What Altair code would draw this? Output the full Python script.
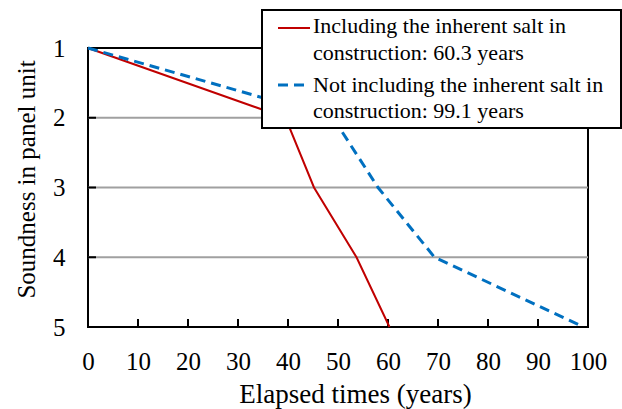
import altair as alt
import pandas as pd

# ---- data ----
red_years = [0, 39.5, 45.2, 53.7, 60.3]
red_sound = [1, 2, 3, 4, 5]
blue_years = [0, 49.0, 58.0, 69.3, 99.1]
blue_sound = [1, 2, 3, 4, 5]

series_names = [
    "Including the inherent salt in construction: 60.3 years",
    "Not including the inherent salt in construction: 99.1 years",
]
legend_red = ["Including the inherent salt in", "construction: 60.3 years"]
legend_blue = ["Not including the inherent salt in", "construction: 99.1 years"]

x_ticks = [0, 10, 20, 30, 40, 50, 60, 70, 80, 90, 100]
y_ticks = [1, 2, 3, 4, 5]
grid_levels = [2, 3, 4]

RED = "#C00000"
BLUE = "#0070C0"
FONT = "Liberation Serif"
W, H = 500, 279

df = pd.DataFrame({
    "x": red_years + blue_years,
    "y": red_sound + blue_sound,
    "series": [series_names[0]] * len(red_years) + [series_names[1]] * len(blue_years),
})

x_axis = alt.Axis(values=x_ticks, title="Elapsed times (years)", grid=False,
                  ticks=False, tickSize=0, domain=False,
                  labelFont=FONT, labelFontSize=25, labelColor="black", labelPadding=22,
                  labelFlush=False,
                  titleFont=FONT, titleFontSize=27, titleFontWeight="normal",
                  titleColor="black", titlePadding=7, titleX=267)
y_axis = alt.Axis(values=y_ticks, title="Soundness in panel unit", grid=False,
                  ticks=False, tickSize=0, domain=False,
                  labelFont=FONT, labelFontSize=25, labelColor="black", labelPadding=23,
                  labelFlush=False, format="d",
                  titleFont=FONT, titleFontSize=25, titleFontWeight="normal",
                  titleColor="black", titlePadding=13, titleY=131)
x_scale = alt.Scale(domain=[0, 100], nice=False, zero=False)
y_scale = alt.Scale(domain=[1, 5], reverse=True, nice=False, zero=False)

X = alt.X("x:Q", scale=x_scale, axis=x_axis)
Y = alt.Y("y:Q", scale=y_scale, axis=y_axis)

grid = alt.Chart(pd.DataFrame({"y": grid_levels})).mark_rule(
    color="#A0A0A0", strokeWidth=2
).encode(y=Y, x=alt.value(0), x2=alt.value(W))

xt = alt.Chart(pd.DataFrame({"x": x_ticks[1:-1]})).mark_rule(
    color="black", strokeWidth=2
).encode(x=X, y=alt.value(H), y2=alt.value(H - 8))

yt = alt.Chart(pd.DataFrame({"y": grid_levels})).mark_rule(
    color="black", strokeWidth=2
).encode(y=Y, x=alt.value(0), x2=alt.value(8))

red_df = df[df["series"] == series_names[0]]
blue_df = df[df["series"] == series_names[1]]

red_line = alt.Chart(red_df).mark_line(color=RED, strokeWidth=2).encode(
    x=X, y=Y, order="x:Q")
blue_line = alt.Chart(blue_df).mark_line(color=BLUE, strokeWidth=3, strokeDash=[10, 6]).encode(
    x=X, y=Y, order="x:Q")

# ---- manual legend (layout only) ----
LX0, LX1, LY0, LY1 = 174, 533, -38, 80
box = alt.Chart(pd.DataFrame({"a": [0]})).mark_rect(
    fill="white", stroke="black", strokeWidth=2
).encode(x=alt.value(LX0), x2=alt.value(LX1), y=alt.value(LY0), y2=alt.value(LY1))

txt_red = alt.Chart(pd.DataFrame({"a": [0]})).mark_text(
    align="left", baseline="alphabetic", font=FONT, fontSize=22, lineHeight=27, color="black"
).encode(x=alt.value(225), y=alt.value(-15), text=alt.value(legend_red))
txt_blue = alt.Chart(pd.DataFrame({"a": [0]})).mark_text(
    align="left", baseline="alphabetic", font=FONT, fontSize=22, lineHeight=26, color="black"
).encode(x=alt.value(225), y=alt.value(44), text=alt.value(legend_blue))

sym_red = alt.Chart(pd.DataFrame({"a": [0]})).mark_rule(color=RED, strokeWidth=2).encode(
    x=alt.value(190), x2=alt.value(222), y=alt.value(-20))
sym_blue = alt.Chart(pd.DataFrame({"a": [0]})).mark_rule(
    color=BLUE, strokeWidth=3, strokeDash=[10, 6]).encode(
    x=alt.value(190), x2=alt.value(222), y=alt.value(37))

chart = alt.layer(grid, xt, yt, red_line, blue_line, box, txt_red, txt_blue,
                  sym_red, sym_blue).properties(
    width=W, height=H,
    autosize=alt.AutoSizeParams(type="none"),
    padding={"left": 88, "top": 48, "right": 34, "bottom": 82},
    background="white",
).configure_view(stroke="black", strokeWidth=2)

chart.save("out.html", embed_options={"renderer": "svg", "actions": False})
